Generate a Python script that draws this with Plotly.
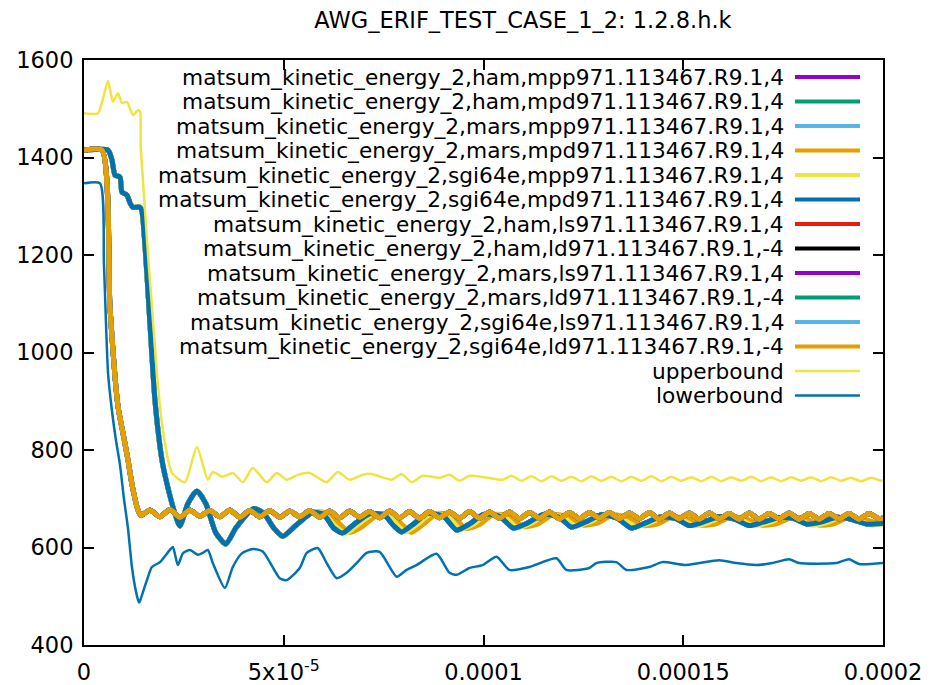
import numpy as np
import plotly.graph_objects as go

# time in 1e-6 s

# mpp/mpd runs: common start, then three slightly different tails
t_mp_early = [0, 6, 7, 7.75, 9, 9.5, 10.75, 11.5, 12.25, 14, 14.5, 17.75, 19.5, 20.5, 22.75, 24,
              26, 28.25, 30.5, 33, 35.5, 38, 42.5, 45, 47.5, 49.75, 53, 57.25]
ke_mp_early = [1415, 1415, 1395, 1364, 1360, 1329, 1323, 1307, 1298, 1298, 1290, 903, 780, 740, 670, 644,
               690, 716, 690, 630, 607, 640, 680, 670, 640, 623, 645, 672]

t_mpd_tail = [60, 62.5, 64.75, 68, 71.5, 75, 77.5, 79.5, 82.5, 86, 90, 93.25, 96.5, 100, 104, 107.5,
              111, 115, 119, 122, 125.5, 129.5, 133.5, 137, 140.5, 144, 148, 151.5, 155, 159, 163,
              166.5, 170, 174, 177.5, 181, 184.5, 188.5, 192, 196, 200]
ke_mpd_tail = [668, 640, 630, 650, 669, 668, 645, 632, 648, 670, 664, 636, 648, 668, 664, 640,
               650, 668, 662, 642, 652, 667, 660, 640, 650, 662, 660, 645, 652, 663, 658,
               645, 652, 661, 660, 648, 652, 662, 658, 648, 650]

t_mpp_sgi_tail = [60, 63, 65.5, 69, 72.5, 76, 78.5, 80.5, 83.5, 87, 91, 94.25, 97.5, 101, 105, 108.5,
                  112, 116, 120, 123, 126.5, 130.5, 134.5, 138, 141.5, 145, 149, 152.5, 156, 160,
                  164, 167.5, 171, 175, 178.5, 182, 185.5, 189.5, 193, 197, 200]
ke_mpp_sgi_tail = [670, 643, 629, 650, 669, 668, 645, 632, 648, 670, 664, 637, 648, 668, 664, 641,
                   650, 668, 662, 644, 652, 667, 660, 643, 650, 662, 660, 645, 650, 663,
                   658, 645, 650, 661, 660, 646, 650, 662, 658, 646, 648]

t_mpd_mars_tail = [60, 63.5, 66.5, 69.5, 73.5, 77, 79.5, 82, 85, 88.5, 92.5, 95.5, 99, 102.5, 106.5, 110,
                   113.5, 117.5, 121.5, 125, 128.5, 132.5, 136.5, 140, 143.5, 147, 151, 154.5, 158,
                   162, 166, 169.5, 173, 177, 180.5, 184, 187.5, 191.5, 195, 200]
ke_mpd_mars_tail = [672, 652, 631, 642, 667, 668, 648, 631, 648, 670, 664, 639, 647, 668, 664, 643,
                    648, 668, 662, 646, 650, 667, 660, 645, 648, 662, 660, 646, 648,
                    663, 658, 646, 648, 661, 660, 646, 648, 662, 658, 647]

# ls/ld runs (all on top of each other)
t_ls = [0, 4.5, 6.5, 8.5, 9.75, 11, 12, 13.5, 14.25,
        16.5, 19, 21.5, 24, 26.5, 29, 31.5, 34, 36.5, 39, 41.5, 44, 46.5, 49, 51.5, 54, 56.5, 59,
        61.5, 64, 66.5, 69, 71.5, 74, 76.5, 79, 81.5, 84, 86.5, 89, 91.5, 94, 96.5, 99, 101.5, 104,
        106.5, 109, 111.5, 114, 116.5, 119, 121.5, 124, 126.5, 129, 131.5, 134, 136.5, 139, 141.5,
        144, 146.5, 149, 151.5, 154, 156.5, 159, 161.5, 164, 166.5, 169, 171.5, 174, 176.5, 179,
        181.5, 184, 186.5, 189, 191.5, 194, 196.5, 199, 200]
ke_ls = [1415, 1415, 1093, 890, 835, 780, 730, 677, 666,
         677, 663, 678, 662, 677, 664, 676, 663, 677, 662, 676, 663, 676, 662, 675, 663, 676, 662,
         675, 661, 675, 662, 674, 661, 675, 661, 674, 660, 674, 661, 673, 660, 674, 660, 673, 660,
         673, 659, 672, 660, 673, 659, 672, 659, 672, 660, 672, 659, 671, 659, 672,
         658, 671, 659, 671, 658, 671, 659, 670, 658, 671, 658, 670, 659, 671, 658,
         670, 658, 670, 659, 670, 658, 670, 659, 661]

t_upper = [0, 3.5, 6, 7.25, 8.5, 9.5, 10.75, 12.25, 13.5, 14, 14.2, 18.25, 19.5, 22, 25.25, 28.25,
           31, 32.25, 34.75, 37.25, 39.75, 42.25, 45.75, 48.25, 50.75, 53.5, 56.5, 60.75, 63.5,
           66.5, 69.75, 72, 77, 79.5, 82, 84.75, 89, 91.5, 94, 96.5, 101, 104.75,
           107, 109.5, 112, 114.5, 117, 119.5, 122, 124.5, 127, 129.5, 132, 134.5, 137, 139.5,
           142, 144.5, 147, 149.5, 152, 154.5, 157, 159.5, 162, 164.5, 167, 169.5, 172, 174.5,
           177, 179.5, 182, 184.5, 187, 189.5, 192, 194.5, 197, 199.5, 200]
ke_upper = [1491, 1491, 1557, 1514, 1532, 1512, 1514, 1487, 1497, 1495, 1420, 958, 855, 753, 734, 806,
            739, 755, 745, 753, 734, 763, 734, 753, 739, 749, 753, 734, 755,
            739, 749, 751, 739, 751, 734, 747, 743, 749, 737, 747, 743, 739,
            747, 737, 746, 736, 746, 737, 745, 736, 746, 737, 745, 736, 745, 737,
            746, 736, 745, 737, 744, 736, 745, 736, 744, 737, 745, 736, 744, 736,
            744, 737, 744, 736, 744, 737, 743, 736, 743, 737, 738]

t_lower = [0, 4, 5, 6, 7, 8, 9, 10, 11, 12, 13, 13.75, 14, 15.75, 17, 19, 21.5, 22.25, 23.5, 24.75,
           26.5, 28.5, 29.75, 31, 32.25, 35.25, 37.25, 39.5, 42.25, 44.75, 49, 50.75, 54, 55.75,
           58.5, 60.75, 63.25, 65.75, 68.25, 70.75, 74, 78.25, 80.75, 83.25, 88.25, 91.5, 93.25,
           96.5, 99.75, 103.25, 106.5, 111.5, 118.25, 120.75, 126.5, 128.25, 133.25, 135.75,
           141.5, 144.75, 150.75, 159, 163.25, 168.25, 172.25, 176.5, 179, 188.25, 191.5, 194, 200]
ke_lower = [1347, 1347, 1180, 960, 880, 820, 770, 700, 640, 560, 510, 487, 490, 533, 560, 570, 595, 601, 564, 588,
            595, 585, 589, 595, 568, 517, 560, 588, 597, 592, 537, 533, 558, 589,
            599, 568, 537, 548, 568, 589, 591, 540, 554, 564, 587, 548, 544,
            558, 564, 581, 554, 560, 578, 554, 558, 568, 570, 554,
            560, 570, 564, 574, 568, 564, 568, 576, 568, 568, 576, 566, 568]

t_mpd = t_mp_early + t_mpd_tail
ke_mpd = ke_mp_early + ke_mpd_tail
t_mpp_sgi = t_mp_early + t_mpp_sgi_tail
ke_mpp_sgi = ke_mp_early + ke_mpp_sgi_tail
t_mpd_mars = t_mp_early + t_mpd_mars_tail
ke_mpd_mars = ke_mp_early + ke_mpd_mars_tail

names = ['matsum_kinetic_energy_2,ham,mpp971.113467.R9.1,4',
         'matsum_kinetic_energy_2,ham,mpd971.113467.R9.1,4',
         'matsum_kinetic_energy_2,mars,mpp971.113467.R9.1,4',
         'matsum_kinetic_energy_2,mars,mpd971.113467.R9.1,4',
         'matsum_kinetic_energy_2,sgi64e,mpp971.113467.R9.1,4',
         'matsum_kinetic_energy_2,sgi64e,mpd971.113467.R9.1,4',
         'matsum_kinetic_energy_2,ham,ls971.113467.R9.1,4',
         'matsum_kinetic_energy_2,ham,ld971.113467.R9.1,-4',
         'matsum_kinetic_energy_2,mars,ls971.113467.R9.1,4',
         'matsum_kinetic_energy_2,mars,ld971.113467.R9.1,-4',
         'matsum_kinetic_energy_2,sgi64e,ls971.113467.R9.1,4',
         'matsum_kinetic_energy_2,sgi64e,ld971.113467.R9.1,-4',
         'upperbound',
         'lowerbound']
colors = ['#9400d3', '#009e73', '#56b4e9', '#e69f00', '#f0e442', '#0072b2', '#e51e10', '#000000',
          '#9400d3', '#009e73', '#56b4e9', '#e69f00', '#f0e442', '#0072b2']
data = [(t_mpd, ke_mpd), (t_mpd, ke_mpd), (t_mpd, ke_mpd), (t_mpd_mars, ke_mpd_mars),
        (t_mpp_sgi, ke_mpp_sgi), (t_mpd, ke_mpd),
        (t_ls, ke_ls), (t_ls, ke_ls), (t_ls, ke_ls), (t_ls, ke_ls), (t_ls, ke_ls), (t_ls, ke_ls),
        (t_upper, ke_upper), (t_lower, ke_lower)]
widths = [5] * 12 + [2.5, 2.5]

# page body has an 8px margin, so the figure is drawn 8px in from the corner
W, H = 922, 677
L, R, T, B = 76, 47, 52, 40
fnt = dict(family='DejaVu Sans', size=22.5, color='black')

fig = go.Figure()
for i in range(len(names)):
    t, ke = data[i]
    fig.add_trace(go.Scatter(x=np.array(t) * 1e-6, y=ke, mode='lines', name=names[i],
                             line=dict(color=colors[i], width=widths[i], shape='spline', smoothing=0.6),
                             showlegend=False))

# gnuplot style key: text right aligned, sample on the right
pw, ph = W - L - R, H - T - B
for i in range(len(names)):
    yp = (ph - (17 + 24.5 * i)) / ph
    fig.add_annotation(x=(786 - 8 - L) / pw, y=yp, xref='paper', yref='paper', text=names[i],
                       showarrow=False, xanchor='right', yanchor='middle',
                       font=dict(family='DejaVu Sans', size=21.7, color='black'))
    fig.add_shape(type='line', xref='paper', yref='paper',
                  x0=(795 - 8 - L) / pw, x1=(860 - 8 - L) / pw, y0=yp, y1=yp,
                  line=dict(color=colors[i], width=4 if i < 12 else 2.5))

fig.update_layout(
    width=W, height=H,
    margin=dict(l=L, r=R, t=T, b=B, autoexpand=False),
    paper_bgcolor='white', plot_bgcolor='white',
    font=fnt,
    title=dict(text='AWG_ERIF_TEST_CASE_1_2: 1.2.8.h.k', x=(523 - 8 - L) / pw, xref='paper',
               xanchor='center', y=1 - 12 / H, yanchor='middle', font=fnt),
)
fig.update_xaxes(range=[0, 0.0002], tickvals=[0, 5e-5, 1e-4, 1.5e-4, 2e-4],
                 ticktext=['0', '5x10<sup>-5</sup>', '0.0001', '0.00015', '0.0002'],
                 showgrid=False, zeroline=False, showline=True, linecolor='black', linewidth=2,
                 mirror='ticks', ticks='inside', ticklen=10, tickwidth=1.5, tickcolor='black',
                 ticklabelstandoff=6, automargin=False)
fig.update_yaxes(range=[400, 1600], tickvals=[400, 600, 800, 1000, 1200, 1400, 1600],
                 showgrid=False, zeroline=False, showline=True, linecolor='black', linewidth=2,
                 mirror='ticks', ticks='inside', ticklen=10, tickwidth=1.5, tickcolor='black',
                 ticklabelstandoff=4, automargin=False)

fig.write_html("out.html")
